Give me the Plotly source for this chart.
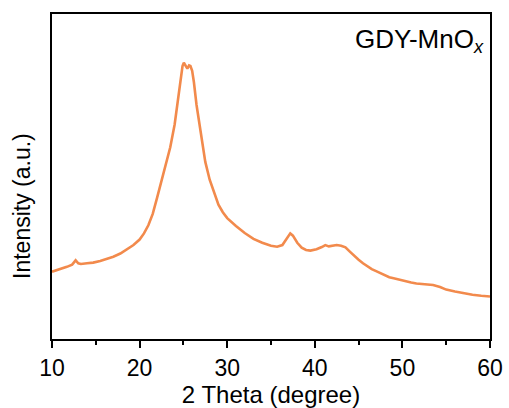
import plotly.graph_objects as go

two_theta = [10.0, 10.5, 11.0, 11.7, 12.3, 12.7, 13.0, 13.3, 14.0, 14.7, 15.5, 16.2, 17.0, 17.8,
             18.5, 19.3, 20.0, 20.5, 21.0, 21.5, 22.0, 22.5, 23.0, 23.5, 24.0, 24.4, 24.7, 24.9,
             25.05, 25.25, 25.45, 25.65, 25.8, 26.0, 26.2, 26.5, 27.0, 27.3, 27.5, 28.0, 28.5,
             28.8, 29.0, 29.5, 30.0, 31.0, 32.0, 33.0, 34.0, 35.0, 35.7, 36.3, 36.8, 37.2, 37.5,
             38.0, 38.5, 39.0, 39.5, 40.2, 40.8, 41.2, 41.6, 42.0, 42.5, 43.0, 43.5, 44.0, 44.5,
             45.0, 45.5, 46.0, 46.5, 47.0, 47.5, 48.0, 48.5, 49.0, 49.7, 50.5, 51.0, 51.6, 52.5,
             53.5, 54.3, 55.0, 56.0, 57.0, 58.0, 59.0, 60.0]
intensity = [20.7, 21.1, 21.5, 22.2, 22.9, 24.2, 23.3, 23.1, 23.3, 23.5, 24.0, 24.6, 25.3, 26.3,
             27.4, 28.9, 30.6, 32.5, 35.0, 38.5, 43.5, 48.5, 54.0, 59.0, 66.0, 74.0, 80.0, 84.0,
             85.0, 84.2, 83.2, 84.2, 84.0, 82.5, 79.0, 72.0, 62.5, 58.0, 54.5, 49.0, 45.0,
             42.8, 41.3, 39.0, 37.2, 34.8, 32.6, 30.8, 29.6, 28.7, 28.4, 28.9, 30.8, 32.5, 31.8,
             29.6, 28.1, 27.4, 27.2, 27.6, 28.3, 28.9, 28.5, 28.7, 28.9, 28.7, 28.2, 26.9, 25.5,
             24.4, 23.3, 22.3, 21.5, 20.9, 20.2, 19.5, 19.0, 18.7, 18.2, 17.7, 17.4, 17.1, 16.9,
             16.6, 16.0, 15.2, 14.6, 14.0, 13.6, 13.3, 13.1]
x_ticks = [10, 20, 30, 40, 50, 60]

FONT = "Liberation Sans, Arial, sans-serif"

fig = go.Figure()
fig.add_trace(go.Scatter(x=two_theta, y=intensity, mode="lines",
                         line=dict(color="#F28A4C", width=2.6), showlegend=False))

fig.update_layout(
    width=509, height=408,
    margin=dict(l=52, r=19, t=14, b=69, autoexpand=False),
    paper_bgcolor="white", plot_bgcolor="white",
    font=dict(family=FONT, size=23, color="black"),
    xaxis=dict(range=[10, 60], tickvals=x_ticks, ticktext=[str(v) for v in x_ticks],
               ticks="outside", ticklen=7, tickwidth=2, tickcolor="black",
               minor=dict(dtick=5, tick0=10, ticks="outside", ticklen=4, tickwidth=2, tickcolor="black"),
               showline=True, linewidth=2, linecolor="black", mirror=True,
               showgrid=False, zeroline=False, ticklabelstandoff=0, automargin=False,
               tickfont=dict(family=FONT, size=23),
               title=dict(text="2 Theta (degree)", font=dict(family=FONT, size=24), standoff=5)),
    yaxis=dict(range=[0, 100], showticklabels=False, ticks="", automargin=False,
               showline=True, linewidth=2, linecolor="black", mirror=True,
               showgrid=False, zeroline=False),
    annotations=[
        dict(text="Intensity (a.u.)", textangle=-90, xref="paper", yref="paper",
             x=-0.068, y=0.41, xanchor="center", yanchor="middle", showarrow=False,
             font=dict(family=FONT, size=23)),
        dict(text="GDY-MnO<sub><i>x</i></sub>", xref="paper", yref="paper",
             x=0.99, y=0.975, xanchor="right", yanchor="top", showarrow=False,
             font=dict(family=FONT, size=26)),
    ],
)

fig.write_html("out.html")
